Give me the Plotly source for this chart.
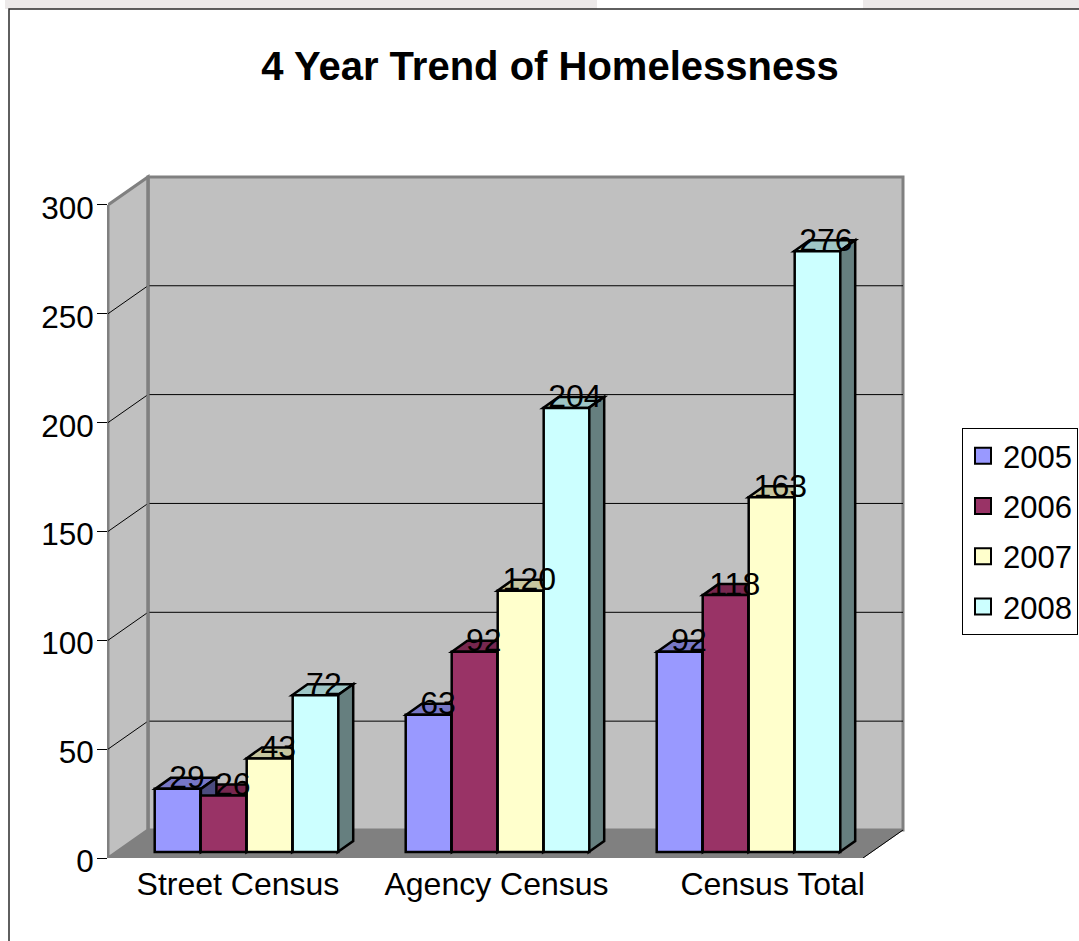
import plotly.graph_objects as go

title = "4 Year Trend of Homelessness"
categories = ["Street Census", "Agency Census", "Census Total"]
group_pos = [0, 1, 2]
years = ["2005", "2006", "2007", "2008"]
v2005 = [29, 63, 92]
v2006 = [26, 92, 118]
v2007 = [43, 120, 163]
v2008 = [72, 204, 276]
series = [v2005, v2006, v2007, v2008]
colors = ["#9999FF", "#993366", "#FFFFCC", "#CCFFFF"]
y_ticks = [0, 50, 100, 150, 200, 250, 300]
label_shift = [-0.034, -0.004, 0.096]

W, H = 1079, 941
L, R, T, B = 108, 910, 170, 858     # plot rectangle in the page
PX_X = 251.0                        # page px per category step
PX_Y = 2.177                        # page px per value unit
X_ORIGIN = 246.5                    # page x of first category
DX, DY = 40 / PX_X, 28 / PX_Y       # depth of the floor
BX, BY = 15.5 / PX_X, 11 / PX_Y     # depth of a bar
BASE = 6 / PX_Y                     # bars stand slightly behind the front edge
BAR_W = 45.6 / PX_X
WALL_R = (863 - X_ORIGIN) / PX_X    # front right corner of floor
WALL_L = (L - X_ORIGIN) / PX_X
WALL_TOP = 300 + (205 - 177) / PX_Y
OUTLINE = 2.5
FONT = "Liberation Sans"


def shade(hex_color, k):
    r, g, b = (int(hex_color[i:i + 2], 16) for i in (1, 3, 5))
    return f"rgb({int(r * k)},{int(g * k)},{int(b * k)})"


def poly(points, fill, line_color="black", width=OUTLINE, xref="x", yref="y"):
    path = "M" + "L".join(f"{x},{y}" for x, y in points) + "Z"
    return dict(type="path", path=path, fillcolor=fill, xref=xref, yref=yref,
                line=dict(color=line_color, width=width), layer="below")


def segment(x0, y0, x1, y1, color="black", width=1, xref="x", yref="y"):
    return dict(type="line", x0=x0, y0=y0, x1=x1, y1=y1, xref=xref, yref=yref,
                line=dict(color=color, width=width), layer="below")


def px(x):
    return (x - L) / (R - L)


def py(y):
    return (B - y) / (B - T)


shapes = []
# Page band and outer frame
shapes.append(dict(type="rect", xref="paper", yref="paper", x0=px(5), x1=px(597), y0=py(0), y1=py(9),
                   fillcolor="#ECE9E9", line_width=0, layer="below"))
shapes.append(dict(type="rect", xref="paper", yref="paper", x0=px(863), x1=px(1079), y0=py(0), y1=py(9),
                   fillcolor="#ECE9E9", line_width=0, layer="below"))
shapes.append(dict(type="rect", xref="paper", yref="paper", x0=px(9), x1=px(1100), y0=py(9), y1=py(960),
                   fillcolor="white", line=dict(color="#2b2b2b", width=1.5), layer="below"))

# Walls and floor
shapes.append(poly([(WALL_L + DX, DY), (WALL_R + DX, DY), (WALL_R + DX, WALL_TOP), (WALL_L + DX, WALL_TOP)],
                   "#C0C0C0", "#808080", 3))
shapes.append(poly([(WALL_L, 0), (WALL_L + DX, DY), (WALL_L + DX, WALL_TOP), (WALL_L, 300)],
                   "#C0C0C0", "#808080", 3))
shapes.append(poly([(WALL_L, 0), (WALL_L + DX, DY), (WALL_R + DX, DY), (WALL_R, 0)], "#808080", "#808080", 1))
# Gridlines on both walls (the top of the wall is its gray edge)
for t in y_ticks[1:-1]:
    shapes.append(segment(WALL_L + DX, t + DY, WALL_R + DX, t + DY))
    shapes.append(segment(WALL_L, t, WALL_L + DX, t + DY))
# Edges
shapes.append(segment(px(108), 0, px(108), 300, xref="paper"))
shapes.append(segment(WALL_L + DX, DY, WALL_L + DX, WALL_TOP, "#808080", 3))
shapes.append(segment(WALL_R, 0, WALL_R + DX, DY))
shapes.append(segment(WALL_L, 0, WALL_R, 0, "#808080", 2))

# Depth faces of the bars, painted back to front
n = len(series)
for s in reversed(range(n)):
    for g, v in zip(group_pos, series[s]):
        x0 = g + (s - n / 2) * BAR_W
        x1 = x0 + BAR_W
        top = v + BASE
        shapes.append(poly([(x0, top), (x1, top), (x1 + BX, top + BY), (x0 + BX, top + BY)], shade(colors[s], 0.78)))
        shapes.append(poly([(x1, BASE), (x1 + BX, BASE + BY), (x1 + BX, top + BY), (x1, top)], shade(colors[s], 0.5)))

fig = go.Figure()
for s, vals in enumerate(series):
    fig.add_trace(go.Bar(x=group_pos, y=vals, base=BASE, width=BAR_W, name=years[s], showlegend=False,
                         offsetgroup=str(s),
                         marker=dict(color=colors[s], line=dict(color="black", width=OUTLINE))))
for s, vals in enumerate(series):
    xs = [g + (s - n / 2 + 0.5) * BAR_W + 9 / PX_X for g in group_pos]
    ys = [v + BASE + 8.5 / PX_Y for v in vals]
    fig.add_trace(go.Scatter(x=xs, y=ys, text=[str(v) for v in vals], mode="text", showlegend=False,
                             textposition="middle center", cliponaxis=False,
                             textfont=dict(family=FONT, size=32, color="black")))
for s, year in enumerate(years):
    fig.add_trace(go.Scatter(x=[None], y=[None], mode="markers", name=year, legendgroup=year,
                             marker=dict(symbol="square", size=16, color=colors[s],
                                         line=dict(color="black", width=2))))

fig.update_layout(
    width=W, height=H, autosize=False,
    margin=dict(l=L, r=W - R, t=T, b=H - B, pad=0),
    paper_bgcolor="white", plot_bgcolor="rgba(0,0,0,0)",
    barmode="group", bargap=0.267, bargroupgap=0,
    title=dict(text=f"<b>{title}</b>", x=550 / W, xref="container", xanchor="center",
               y=1 - 66 / H, yref="container", yanchor="middle",
               font=dict(family=FONT, size=40, color="black")),
    font=dict(family=FONT, size=32, color="black"),
    shapes=shapes,
    legend=dict(x=962 / W, xref="container", xanchor="left", y=1 - 428 / H, yref="container", yanchor="top",
                bgcolor="white", bordercolor="black", borderwidth=1, tracegroupgap=7, traceorder="grouped",
                font=dict(family=FONT, size=31, color="black"),
                itemclick=False, itemdoubleclick=False),
    xaxis=dict(range=[(L - X_ORIGIN) / PX_X, (R - X_ORIGIN) / PX_X],
               tickmode="array", tickvals=[g + d for g, d in zip(group_pos, label_shift)], ticktext=categories,
               showgrid=False, zeroline=False, showline=False, ticks="", ticklabelstandoff=4,
               tickfont=dict(family=FONT, size=32, color="black")),
    yaxis=dict(range=[0, (B - T) / PX_Y], tickmode="array", tickvals=y_ticks,
               showgrid=False, zeroline=False, showline=False, ticks="outside", ticklen=10,
               tickcolor="black", tickwidth=1, ticklabelstandoff=-3, ticklabelshift=3,
               tickfont=dict(family=FONT, size=31.5, color="black")),
)
fig.write_html("out.html", post_script="document.body.style.margin='0';",
               config=dict(displayModeBar=False))
